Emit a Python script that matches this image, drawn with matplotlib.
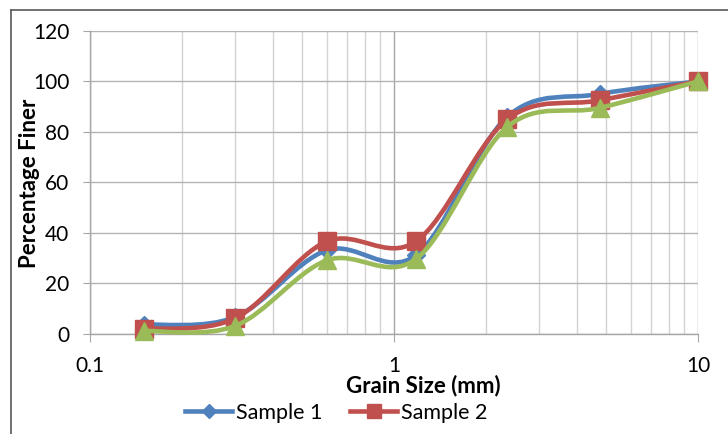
import numpy as np
import matplotlib
matplotlib.use("Agg")
import matplotlib.pyplot as plt
from matplotlib.path import Path
from matplotlib.patches import PathPatch
from matplotlib.lines import Line2D

plt.rcParams['font.family'] = ['Lato', 'DejaVu Sans']

# Sieve sizes (mm) and percentage passing for each sample
grain_size = [0.15, 0.3, 0.6, 1.18, 2.36, 4.75, 10]
sample1 = [3.5, 6.5, 33, 31, 86, 95, 100]
sample2 = [1.8, 6, 36.5, 36.5, 85, 92.5, 100]
sample3 = [1, 3, 29, 29.5, 82, 89.5, 100]

series_names = ["Sample 1", "Sample 2", "Sample 3"]
colors = ["#4F81BD", "#C0504D", "#9BBB59"]
markers = ["D", "s", "^"]
marker_sizes = [9.5, 12.5, 12.5]

y_ticks = [0, 20, 40, 60, 80, 100, 120]
x_ticks = [0.1, 1, 10]
x_tick_labels = ["0.1", "1", "10"]

W, H = 728, 434
fig = plt.figure(figsize=(W / 100, H / 100), dpi=100)
ax = fig.add_axes([90 / W, (H - 333.5) / H, 608 / W, (333.5 - 31) / H])


def smooth_path(xs, ys, tension=1 / 6):
    """Cubic Bezier path through the points (Catmull-Rom style), built in log-x space."""
    lx = np.log10(xs)
    y = np.asarray(ys, dtype=float)
    n = len(lx)
    verts = [(xs[0], y[0])]
    codes = [Path.MOVETO]
    for i in range(n - 1):
        i0 = max(i - 1, 0)
        i3 = min(i + 2, n - 1)
        c1 = (lx[i] + (lx[i + 1] - lx[i0]) * tension, y[i] + (y[i + 1] - y[i0]) * tension)
        c2 = (lx[i + 1] - (lx[i3] - lx[i]) * tension, y[i + 1] - (y[i3] - y[i]) * tension)
        verts += [(10 ** c1[0], c1[1]), (10 ** c2[0], c2[1]), (xs[i + 1], y[i + 1])]
        codes += [Path.CURVE4] * 3
    return Path(verts, codes)


ax.set_xscale("log")
ax.set_xlim(0.1, 10)
ax.set_ylim(0, 120)

all_series = [sample1, sample2, sample3]
for k, (vals, c, m, ms) in enumerate(zip(all_series, colors, markers, marker_sizes)):
    patch = PathPatch(smooth_path(grain_size, vals), facecolor="none", edgecolor=c,
                      linewidth=3.3, transform=ax.transData, zorder=3 + 2 * k,
                      capstyle="round", joinstyle="round", clip_on=False)
    ax.add_patch(patch)
    ax.plot(grain_size, vals, linestyle="none", marker=m, markersize=ms, color=c,
            markeredgecolor=c, zorder=4 + 2 * k, clip_on=False)

# Grid
ax.set_yticks(y_ticks)
ax.set_xticks(x_ticks)
ax.set_xticklabels(x_tick_labels)
ax.yaxis.grid(True, color="#b3b3b3", linewidth=1.0)
ax.xaxis.grid(True, which="major", color="#a6a6a6", linewidth=1.0)
ax.xaxis.grid(True, which="minor", color="#d4d4d4", linewidth=1.0)
ax.set_axisbelow(True)

for s in ["top", "right"]:
    ax.spines[s].set_visible(False)
for s in ["left", "bottom"]:
    ax.spines[s].set_color("#a6a6a6")
    ax.spines[s].set_linewidth(1.0)

ax.tick_params(axis="y", which="major", length=5, color="#a6a6a6", labelsize=15,
               pad=10, labelcolor="#000000")
ax.tick_params(axis="x", which="major", length=6, color="#a6a6a6", labelsize=15,
               pad=10, labelcolor="#000000")
ax.tick_params(axis="x", which="minor", length=0)
ax.xaxis.set_minor_formatter(plt.NullFormatter())

fig.text(30 / W, 1 - 183 / H, "Percentage Finer", rotation=90, ha="center", va="center",
         fontsize=16, fontweight="bold")
fig.text(423 / W, 1 - 386 / H, "Grain Size (mm)", ha="center", va="center",
         fontsize=16, fontweight="bold")

handles = [Line2D([], [], color=colors[i], marker=markers[i], markersize=marker_sizes[i] - 2,
                  linewidth=3.3) for i in range(2)]
fig.legend(handles, series_names[:2], loc="center", bbox_to_anchor=(336 / W, 1 - 413 / H),
           ncol=2, frameon=False, fontsize=15.5, handlelength=2.2, handletextpad=0.15,
           columnspacing=1.3, borderpad=0, borderaxespad=0)

# Chart-area frame (left and top edges)
fig.add_artist(Line2D([11 / W, 11 / W], [0, 1 - 10 / H], color="#595959", linewidth=1.2))
fig.add_artist(Line2D([11 / W, 1], [1 - 10 / H, 1 - 10 / H], color="#595959", linewidth=1.2))

fig.savefig("out.png", dpi=100, facecolor="white")
